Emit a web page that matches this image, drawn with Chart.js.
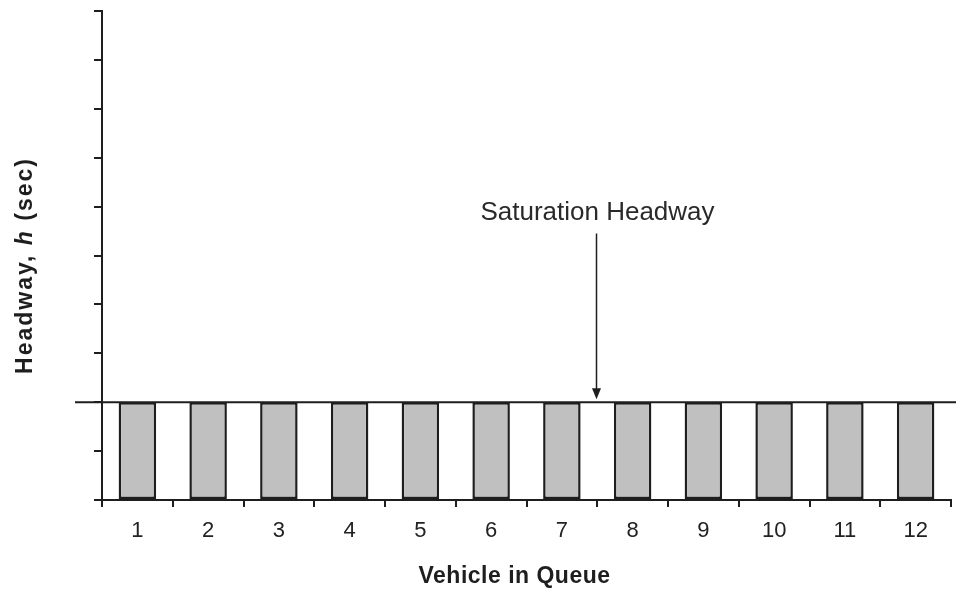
<!DOCTYPE html>
<html>
<head>
<meta charset="utf-8">
<script src="https://cdn.jsdelivr.net/npm/chart.js@4.4.1/dist/chart.umd.min.js"></script>
<style>
  html, body { margin: 0; padding: 0; background: #fff; }
  #wrap { width: 956px; height: 591px; }
</style>
</head>
<body>
<div id="wrap"><canvas id="chart"></canvas></div>
<script>
const vehicles = ['1', '2', '3', '4', '5', '6', '7', '8', '9', '10', '11', '12'];
const headways = [2, 2, 2, 2, 2, 2, 2, 2, 2, 2, 2, 2];
const satHeadway = 2;
const yMin = 0;
const yMax = 10;
const noteText = 'Saturation Headway';
const xTitle = 'Vehicle in Queue';

const FONT = "Arial, 'Liberation Sans', sans-serif";
const INK = '#1e1e1e';

// saturation line, arrow, note and axis titles
const extras = {
  id: 'extras',
  afterDraw(chart) {
    const c = chart.ctx;
    const area = chart.chartArea;
    const xs = chart.scales.x;
    const ys = chart.scales.y;
    const satY = ys.getPixelForValue(satHeadway);

    c.save();
    c.strokeStyle = INK;
    c.fillStyle = INK;
    c.lineWidth = 2;

    // saturation headway line
    c.beginPath();
    c.moveTo(area.left - 27, satY);
    c.lineTo(chart.width, satY);
    c.stroke();

    // arrow between vehicle 7 and 8
    const ax = Math.round(xs.getPixelForValue(6.5)) - 0.5;
    const top = ys.getPixelForValue(5.45);
    c.lineWidth = 1.5;
    c.beginPath();
    c.moveTo(ax, top);
    c.lineTo(ax, satY - 12);
    c.stroke();
    c.beginPath();
    c.moveTo(ax - 4.5, satY - 14);
    c.lineTo(ax + 4.5, satY - 14);
    c.lineTo(ax, satY - 3);
    c.closePath();
    c.fill();

    // note
    c.font = '26px ' + FONT;
    c.fillStyle = '#2a2a2a';
    c.textAlign = 'center';
    c.textBaseline = 'middle';
    c.fillText(noteText, ax + 1, ys.getPixelForValue(5.87));

    // x title
    c.font = 'bold 23px ' + FONT;
    c.fillStyle = INK;
    c.letterSpacing = '0.5px';
    c.fillText(xTitle, (area.left + area.right) / 2 - 12, 577);

    // y title: Headway, h (sec) with italic h
    c.letterSpacing = '2px';
    const parts = [
      ['Headway, ', 'bold 23px ' + FONT],
      ['h', 'italic bold 23px ' + FONT],
      [' (sec)', 'bold 23px ' + FONT]
    ];
    let total = 0;
    parts.forEach(p => { c.font = p[1]; total += c.measureText(p[0]).width; });
    c.translate(26, (area.top + area.bottom) / 2 + 10);
    c.rotate(-Math.PI / 2);
    c.textAlign = 'left';
    let x = -total / 2;
    parts.forEach(p => {
      c.font = p[1];
      c.fillText(p[0], x, 0);
      x += c.measureText(p[0]).width;
    });
    c.restore();
  }
};

new Chart(document.getElementById('chart'), {
  type: 'bar',
  data: {
    labels: vehicles,
    datasets: [{
      label: 'Headway',
      data: headways,
      backgroundColor: '#c0c0c0',
      borderColor: INK,
      borderWidth: 2.5,
      borderSkipped: false,
      categoryPercentage: 1,
      barPercentage: 0.53
    }]
  },
  options: {
    responsive: true,
    maintainAspectRatio: false,
    animation: false,
    layout: { padding: { left: 0, right: 5, top: 11, bottom: 0 } },
    plugins: {
      legend: { display: false },
      tooltip: { enabled: false }
    },
    scales: {
      x: {
        grid: {
          offset: true,
          drawOnChartArea: false,
          drawTicks: true,
          tickLength: 7,
          color: INK,
          lineWidth: 2
        },
        border: { display: true, color: INK, width: 2 },
        ticks: {
          color: '#222',
          font: { family: FONT, size: 22 },
          padding: 11,
          maxRotation: 0
        },
        afterFit(s) { s.height = 91; }
      },
      y: {
        min: yMin,
        max: yMax,
        grid: {
          drawOnChartArea: false,
          drawTicks: true,
          tickLength: 8,
          color: INK,
          lineWidth: 2
        },
        border: { display: true, color: INK, width: 2 },
        ticks: { stepSize: 1, display: false },
        afterFit(s) { s.width = 102; }
      }
    }
  },
  plugins: [extras]
});
</script>
</body>
</html>
